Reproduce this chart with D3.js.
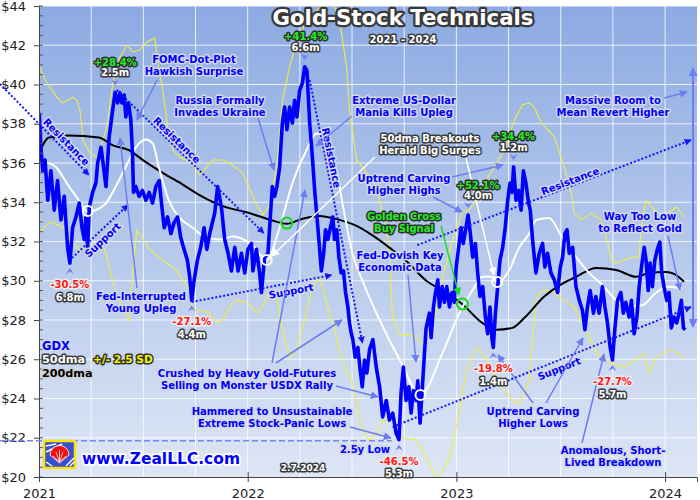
<!DOCTYPE html>
<html><head><meta charset="utf-8">
<script src="https://cdn.jsdelivr.net/npm/d3@7"></script>
<style>body{margin:0;background:#fff}svg{display:block}</style>
</head><body><svg id="c" width="700" height="500"></svg>
<script>
// ---------------- DATA (decimal year, $) ----------------
const price = [
[2021.001,38.55],[2021.010,36.66],[2021.018,35.6],[2021.029,36.15],[2021.042,34.1],[2021.057,35.6],[2021.073,33.6],[2021.089,35.1],[2021.105,33.1],[2021.121,34.3],[2021.137,31.7],[2021.148,30.9],[2021.161,32.7],[2021.177,33.25],[2021.193,33.96],[2021.206,32.7],[2021.217,32.1],[2021.225,33.25],[2021.233,31.7],[2021.241,33.76],[2021.257,34.5],[2021.273,35.0],[2021.281,36.0],[2021.297,36.8],[2021.305,36.15],[2021.321,34.8],[2021.336,37.3],[2021.353,38.7],[2021.365,39.6],[2021.377,39.06],[2021.388,39.57],[2021.397,39.06],[2021.408,39.46],[2021.416,38.35],[2021.429,39.06],[2021.440,38.2],[2021.448,36.5],[2021.453,34.5],[2021.464,34.8],[2021.480,34.3],[2021.496,34.6],[2021.512,34.1],[2021.528,34.5],[2021.544,33.96],[2021.560,34.8],[2021.576,35.1],[2021.589,33.76],[2021.600,32.7],[2021.616,33.25],[2021.632,32.4],[2021.647,32.95],[2021.664,33.25],[2021.679,32.2],[2021.695,31.6],[2021.711,31.05],[2021.722,30.2],[2021.732,29.0],[2021.743,30.0],[2021.759,31.05],[2021.775,31.7],[2021.791,32.7],[2021.804,31.6],[2021.818,32.4],[2021.842,33.45],[2021.856,34.8],[2021.874,33.76],[2021.890,32.1],[2021.906,31.4],[2021.922,30.5],[2021.938,31.7],[2021.954,30.5],[2021.970,31.4],[2021.986,30.4],[2022.001,31.6],[2022.018,31.9],[2022.025,30.5],[2022.042,31.6],[2022.057,30.4],[2022.066,29.4],[2022.081,31.2],[2022.097,31.4],[2022.105,32.7],[2022.118,34.8],[2022.129,34.3],[2022.140,34.8],[2022.153,35.8],[2022.166,38.04],[2022.177,38.85],[2022.188,37.7],[2022.201,38.85],[2022.214,38.04],[2022.225,39.2],[2022.236,38.35],[2022.249,39.7],[2022.262,40.07],[2022.273,40.9],[2022.284,40.7],[2022.297,38.04],[2022.310,36.3],[2022.321,34.6],[2022.332,33.25],[2022.341,32.1],[2022.353,30.5],[2022.364,31.4],[2022.373,32.6],[2022.384,32.1],[2022.396,32.7],[2022.408,33.25],[2022.416,32.1],[2022.427,32.6],[2022.437,31.2],[2022.448,30.4],[2022.459,30.5],[2022.469,29.4],[2022.480,28.66],[2022.488,27.85],[2022.496,27.34],[2022.504,27.0],[2022.515,26.1],[2022.528,26.6],[2022.539,25.45],[2022.549,24.6],[2022.560,25.96],[2022.571,25.3],[2022.584,26.5],[2022.600,27.0],[2022.616,25.6],[2022.632,24.6],[2022.647,23.06],[2022.664,23.9],[2022.679,22.9],[2022.695,23.26],[2022.711,22.24],[2022.725,21.9],[2022.735,24.3],[2022.746,25.6],[2022.759,23.9],[2022.772,24.6],[2022.783,23.26],[2022.794,24.4],[2022.807,23.9],[2022.815,24.9],[2022.826,22.75],[2022.836,24.4],[2022.847,26.3],[2022.855,27.6],[2022.871,28.35],[2022.879,27.1],[2022.890,28.66],[2022.900,29.4],[2022.911,30.05],[2022.919,28.66],[2022.932,29.7],[2022.943,28.9],[2022.954,29.7],[2022.967,28.66],[2022.979,29.4],[2022.990,28.9],[2022.999,30.7],[2023.011,31.7],[2023.022,32.7],[2023.033,31.9],[2023.046,32.7],[2023.056,33.35],[2023.067,32.4],[2023.078,31.2],[2023.091,31.9],[2023.102,30.4],[2023.113,29.2],[2023.126,29.7],[2023.139,28.15],[2023.150,27.3],[2023.161,28.66],[2023.171,27.0],[2023.177,26.6],[2023.187,28.35],[2023.198,29.7],[2023.209,31.05],[2023.222,31.7],[2023.234,32.7],[2023.246,34.1],[2023.257,34.98],[2023.267,34.5],[2023.274,35.8],[2023.286,34.1],[2023.298,34.6],[2023.310,33.6],[2023.321,35.6],[2023.333,34.98],[2023.346,33.96],[2023.354,33.6],[2023.365,32.1],[2023.381,30.4],[2023.397,31.4],[2023.413,31.9],[2023.424,30.7],[2023.437,31.4],[2023.453,30.4],[2023.469,30.05],[2023.485,29.4],[2023.498,30.7],[2023.509,31.2],[2023.520,32.4],[2023.530,32.6],[2023.541,31.4],[2023.557,31.7],[2023.573,29.7],[2023.589,29.0],[2023.604,28.5],[2023.616,27.5],[2023.628,28.66],[2023.641,29.5],[2023.657,28.35],[2023.668,29.2],[2023.684,28.35],[2023.700,29.7],[2023.712,28.66],[2023.724,27.85],[2023.737,26.6],[2023.748,25.96],[2023.759,27.5],[2023.772,29.0],[2023.788,29.4],[2023.800,28.35],[2023.812,28.9],[2023.828,28.15],[2023.839,29.0],[2023.852,27.3],[2023.865,28.15],[2023.876,29.7],[2023.887,30.7],[2023.900,31.7],[2023.909,31.05],[2023.919,29.5],[2023.928,30.9],[2023.939,29.7],[2023.951,31.05],[2023.963,31.6],[2023.975,31.97],[2023.984,30.4],[2023.995,29.7],[2024.008,29.0],[2024.019,29.4],[2024.030,27.6],[2024.043,28.15],[2024.056,27.85],[2024.067,28.35],[2024.078,29.0],[2024.088,27.6],[2024.096,27.5]
];
const dma50 = [
[2021.000,36.6],[2021.019,36.15],[2021.081,35.8],[2021.144,34.8],[2021.191,34.1],[2021.234,33.5],[2021.273,33.6],[2021.321,33.96],[2021.368,34.8],[2021.416,35.8],[2021.464,36.8],[2021.512,37.2],[2021.545,37.0],[2021.574,35.8],[2021.622,34.1],[2021.670,33.25],[2021.737,32.7],[2021.799,32.2],[2021.866,32.1],[2021.928,32.25],[2022.024,31.8],[2022.091,31.05],[2022.153,32.7],[2022.215,35.0],[2022.282,36.66],[2022.330,37.5],[2022.360,37.4],[2022.400,36.4],[2022.426,35.6],[2022.455,33.9],[2022.502,31.4],[2022.550,30.0],[2022.632,28.0],[2022.727,26.0],[2022.828,24.2],[2022.933,26.3],[2023.014,28.35],[2023.077,29.5],[2023.124,30.2],[2023.172,30.2],[2023.196,29.9],[2023.254,30.55],[2023.301,31.7],[2023.349,32.4],[2023.383,33.1],[2023.445,33.2],[2023.507,32.2],[2023.574,31.2],[2023.636,30.4],[2023.699,29.8],[2023.766,29.0],[2023.828,28.7],[2023.890,28.75],[2023.957,29.4],[2024.019,29.7],[2024.081,29.6]
];
const dma200 = [
[2021.000,36.5],[2021.048,37.3],[2021.144,37.4],[2021.287,37.3],[2021.354,36.9],[2021.431,36.66],[2021.498,36.15],[2021.593,35.5],[2021.689,34.9],[2021.780,34.3],[2021.880,33.8],[2021.990,33.5],[2022.110,33.1],[2022.187,32.9],[2022.260,33.15],[2022.340,33.3],[2022.440,33.1],[2022.540,32.7],[2022.600,32.3],[2022.690,31.6],[2022.760,31.0],[2022.856,30.0],[2022.952,29.4],[2023.029,28.8],[2023.124,27.85],[2023.191,27.5],[2023.268,27.6],[2023.325,28.1],[2023.421,29.2],[2023.500,29.8],[2023.574,30.2],[2023.670,30.65],[2023.766,30.55],[2023.861,30.2],[2023.923,30.4],[2024.005,30.45],[2024.043,30.35],[2024.091,29.95]
];
const bandUpper = [
[2021.000,41.0],[2021.029,40.23],[2021.086,39.36],[2021.110,39.06],[2021.139,39.2],[2021.163,39.36],[2021.182,39.2],[2021.196,38.7],[2021.211,37.17],[2021.244,36.5],[2021.278,36.3],[2021.292,36.66],[2021.325,37.83],[2021.354,40.08],[2021.388,41.4],[2021.421,42.0],[2021.450,41.66],[2021.483,41.76],[2021.517,42.17],[2021.555,42.37],[2021.569,41.1],[2021.593,39.72],[2021.617,37.83],[2021.641,36.66],[2021.675,36.3],[2021.732,36.0],[2021.770,35.4],[2021.833,36.15],[2021.880,36.15],[2021.914,36.0],[2021.976,35.5],[2022.038,33.96],[2022.072,33.35],[2022.105,33.86],[2022.139,35.8],[2022.167,39.2],[2022.201,40.9],[2022.234,42.1],[2022.282,43.29],[2022.344,43.9],[2022.407,44.2],[2022.440,43.29],[2022.474,40.9],[2022.488,38.7],[2022.522,36.15],[2022.550,35.8],[2022.617,34.78],[2022.646,33.45],[2022.679,31.72],[2022.694,28.15],[2022.727,27.24],[2022.789,27.24],[2022.847,26.73],[2022.895,28.0],[2022.943,30.55],[2022.990,32.33],[2023.029,33.5],[2023.062,33.6],[2023.110,34.37],[2023.158,35.4],[2023.230,36.66],[2023.278,38.19],[2023.316,38.96],[2023.349,39.06],[2023.373,38.85],[2023.407,38.04],[2023.469,37.33],[2023.517,35.8],[2023.550,34.47],[2023.565,33.45],[2023.598,33.1],[2023.646,33.45],[2023.694,33.1],[2023.722,32.08],[2023.742,31.06],[2023.770,30.9],[2023.837,31.2],[2023.876,31.2],[2023.885,32.74],[2023.909,34.1],[2023.947,33.6],[2023.995,33.35],[2024.057,33.76],[2024.091,33.25]
];
const bandLower = [
[2021.000,32.43],[2021.053,33.0],[2021.115,32.74],[2021.148,32.08],[2021.196,31.57],[2021.244,31.82],[2021.292,32.08],[2021.316,31.57],[2021.368,29.38],[2021.402,28.66],[2021.431,28.0],[2021.450,30.55],[2021.469,32.59],[2021.478,32.43],[2021.531,31.57],[2021.593,31.06],[2021.656,30.55],[2021.722,29.53],[2021.737,28.51],[2021.770,28.51],[2021.818,28.36],[2021.852,27.85],[2021.880,28.0],[2021.914,28.66],[2021.947,29.02],[2021.995,28.87],[2022.043,28.36],[2022.072,28.66],[2022.105,29.53],[2022.139,29.17],[2022.167,27.49],[2022.201,26.11],[2022.234,26.47],[2022.273,28.0],[2022.306,29.53],[2022.344,30.19],[2022.392,28.36],[2022.426,27.13],[2022.455,25.8],[2022.502,24.78],[2022.550,22.38],[2022.584,21.87],[2022.617,22.23],[2022.646,22.9],[2022.694,22.9],[2022.727,22.04],[2022.809,21.87],[2022.856,21.0],[2022.909,19.8],[2022.967,21.0],[2023.014,23.24],[2023.048,25.43],[2023.096,26.6],[2023.124,26.3],[2023.158,25.79],[2023.220,24.57],[2023.268,23.9],[2023.301,23.75],[2023.349,24.92],[2023.364,26.96],[2023.383,29.15],[2023.411,29.5],[2023.455,29.5],[2023.517,29.0],[2023.565,28.66],[2023.612,27.64],[2023.675,26.3],[2023.742,25.8],[2023.804,25.6],[2023.852,25.96],[2023.900,26.3],[2023.923,25.3],[2023.957,26.11],[2024.019,26.47],[2024.067,26.3],[2024.091,26.06]
];
const yearTicks = [2021, 2022, 2023, 2024];
const priceTicks = [20, 22, 24, 26, 28, 30, 32, 34, 36, 38, 40, 42, 44];
const peaks = [
  {t:2021.365, v:39.6, pct:"+28.4%", vol:"2.5m", dx:0},
  {t:2022.273, v:40.9, pct:"+41.4%", vol:"6.6m", dx:1},
  {t:2023.056, v:33.35, pct:"+52.1%", vol:"4.0m", dx:10},
  {t:2023.274, v:35.8, pct:"+34.4%", vol:"1.2m", dx:0}
];
const lows = [
  {t:2021.148, v:30.9, pct:"-30.5%", vol:"6.8m"},
  {t:2021.732, v:29.0, pct:"-27.1%", vol:"4.4m"},
  {t:2022.725, v:21.9, pct:"-46.5%", vol:"5.3m"},
  {t:2023.177, v:26.6, pct:"-19.8%", vol:"1.4m"},
  {t:2023.748, v:25.96, pct:"-27.7%", vol:"5.7m"}
];
const crosses50 = [[2021.234,33.55],[2022.091,31.06],[2022.828,24.18],[2023.196,29.94]];
const goldenCrosses = [[2022.187,32.94],[2023.029,28.82]];
// trend lines: [t1,v1,t2,v2,label,frac,offset]
const trendLines = [
  [2020.813,40.03,2021.239,35.39,"Resistance",0.69,7],
  [2021.373,39.72,2022.077,32.43,"Resistance",0.38,6],
  [2022.297,40.23,2022.550,26.83,"Resistance",0.30,6],
  [2022.813,31.82,2024.124,37.17,"Resistance",0.565,5],
  [2021.158,31.16,2021.426,33.86,"Support",0.45,-8],
  [2021.732,28.92,2022.402,30.29,"Support",0.70,-8],
  [2022.694,22.55,2024.124,28.66,"Support",0.548,-8]
];
const lowLine = {t1:2020.813, t2:2022.690, v:21.85};
const revertArrow = {t:2024.134, v1:40.84, v2:27.64};

// ---------------- SETUP ----------------
const svg = d3.select('#c');
const x = d3.scaleLinear().domain([2021, 2024.153]).range([39, 697]);
const y = d3.scaleLinear().domain([20, 44]).range([477, 6]);
const FONT = "'DejaVu Sans', Verdana, sans-serif";

const defs = svg.append('defs');
const grad = defs.append('linearGradient').attr('id','bg').attr('x1',0).attr('y1',0).attr('x2',0).attr('y2',1);
grad.append('stop').attr('offset','0%').attr('stop-color','#8caae2');
grad.append('stop').attr('offset','100%').attr('stop-color','#dde6f5');
defs.append('clipPath').attr('id','plot').append('rect')
  .attr('x', x(2021)).attr('y', y(44)).attr('width', x.range()[1]-x(2021)).attr('height', y(20)-y(44));
function marker(id, color, size){
  defs.append('marker').attr('id',id).attr('viewBox','0 0 10 10').attr('refX',9).attr('refY',5)
    .attr('markerWidth',size).attr('markerHeight',size).attr('markerUnits','userSpaceOnUse')
    .attr('orient','auto-start-reverse')
    .append('path').attr('d','M0,0L10,5L0,10z').attr('fill',color);
}
marker('mDot','#1515ff',7);
marker('mPtr','#6d7ef2',8);
marker('mWhite','#ffffff',8);
marker('mGreen','#22dd22',8);
marker('mRev','#6d7ef2',9);

// background
svg.append('rect').attr('x', x(2021)).attr('y', y(44))
  .attr('width', x.range()[1]-x(2021)).attr('height', y(20)-y(44)).attr('fill','url(#bg)');

// grid
const grid = svg.append('g').attr('stroke','#ffffff').attr('stroke-opacity',0.8).attr('stroke-width',1);
grid.selectAll('line.h').data(priceTicks.slice(1)).join('line')
  .attr('x1', x(2021)).attr('x2', x.range()[1]).attr('y1', d=>y(d)).attr('y2', d=>y(d));
const quarters = d3.range(1, 13).map(i => 2021 + i*0.25);
grid.selectAll('line.v').data(quarters).join('line')
  .attr('x1', d=>x(d)).attr('x2', d=>x(d)).attr('y1', y(44)).attr('y2', y(20));

// series
const line = d3.line().x(d=>x(d[0])).y(d=>y(d[1]));
const smooth = d3.line().x(d=>x(d[0])).y(d=>y(d[1])).curve(d3.curveMonotoneX);
const sg = svg.append('g').attr('clip-path','url(#plot)').attr('fill','none');
sg.append('path').datum(bandUpper).attr('d', line).attr('stroke','#eeee44').attr('stroke-width',1.1);
sg.append('path').datum(bandLower).attr('d', line).attr('stroke','#eeee44').attr('stroke-width',1.1);
sg.append('path').datum(dma200).attr('d', smooth).attr('stroke','#000').attr('stroke-width',2);
sg.append('path').datum(dma50).attr('d', smooth).attr('stroke','#fff').attr('stroke-width',2);
sg.append('path').datum(price).attr('d', line).attr('stroke','#0000ff').attr('stroke-width',3.6).attr('stroke-linejoin','round');

// axes
const ya = svg.append('g').attr('transform',`translate(${x(2021)},0)`)
  .call(d3.axisLeft(y).tickValues(priceTicks).tickFormat(d=>'$'+d).tickSize(5).tickPadding(8));
ya.selectAll('text').attr('font-family',FONT).attr('font-size',13).attr('fill','#222');
ya.selectAll('line,path').attr('stroke','#444');
ya.selectAll('.minor').data(d3.range(20, 44.01, 0.5)).join('line').attr('class','minor')
  .attr('x1',0).attr('x2',4).attr('y1',d=>y(d)).attr('y2',d=>y(d)).attr('stroke','#555');
const xa = svg.append('g').attr('transform',`translate(0,${y(20)})`)
  .call(d3.axisBottom(x).tickValues(yearTicks).tickFormat(d3.format('d')).tickSize(5).tickPadding(7));
xa.selectAll('text').attr('font-family',FONT).attr('font-size',13).attr('fill','#222');
xa.selectAll('line,path').attr('stroke','#444');
xa.selectAll('.tick line').attr('y1',-5);

// ---------------- ANNOTATIONS ----------------
const styles = {
  blue:{fill:'#0000ff',stroke:'#d4d8e6'}, white:{fill:'#ffffff',stroke:'#3a3a3a'},
  green:{fill:'#22ee22',stroke:'#2e2e2e'}, red:{fill:'#ff1a1a',stroke:'#ececec'},
  yellow:{fill:'#f4f400',stroke:'#333333'}, black:{fill:'#000000',stroke:'#d0d0d0'}
};
const ag = svg.append('g');
function txt(px, py, s, style, o={}){
  const st = styles[style];
  const t = ag.append('text').attr('x',px).attr('y',py).text(s)
    .attr('font-family',FONT).attr('font-weight','bold').attr('font-size',o.size||10)
    .attr('text-anchor',o.anchor||'middle').attr('fill',st.fill).attr('stroke',st.stroke)
    .attr('stroke-width',o.sw||3).attr('stroke-linejoin','round').attr('paint-order','stroke');
  if (o.len) t.attr('textLength',o.len).attr('lengthAdjust','spacingAndGlyphs');
  if (o.rot !== undefined) t.attr('transform',`rotate(${o.rot},${px},${py})`).attr('dy','0.36em');
  return t;
}
function block(px, py, lines, style, lh=12){ lines.forEach((s,i)=>txt(px, py+i*lh, s, style)); }
function arrow(x1,y1,x2,y2,color,mk,w=1.5){
  ag.append('line').attr('x1',x1).attr('y1',y1).attr('x2',x2).attr('y2',y2)
    .attr('stroke',color).attr('stroke-width',w).attr('marker-end',`url(#${mk})`);
}

// low line (2.5y low)
ag.append('line').attr('x1',x(lowLine.t1)).attr('x2',x(lowLine.t2)).attr('y1',y(lowLine.v)).attr('y2',y(lowLine.v))
  .attr('stroke','#7586f0').attr('stroke-width',1.6).attr('stroke-dasharray','6,3');

// trend lines
trendLines.forEach(([t1,v1,t2,v2,lab,f,off])=>{
  const X1=x(t1),Y1=y(v1),X2=x(t2),Y2=y(v2);
  ag.append('line').attr('x1',X1).attr('y1',Y1).attr('x2',X2).attr('y2',Y2)
    .attr('stroke','#1515ff').attr('stroke-width',2).attr('stroke-dasharray','2,2').attr('marker-end','url(#mDot)');
  const dx=X2-X1, dy=Y2-Y1, L=Math.hypot(dx,dy);
  const nx=dy/L, ny=-dx/L;
  const cx=X1+dx*f+nx*off, cy=Y1+dy*f+ny*off;
  txt(cx, cy, lab, 'blue', {rot: Math.atan2(dy,dx)*180/Math.PI});
});

// revert vertical arrow
ag.append('line').attr('x1',x(revertArrow.t)).attr('x2',x(revertArrow.t))
  .attr('y1',y(revertArrow.v2)).attr('y2',y(revertArrow.v1))
  .attr('stroke','#6d7ef2').attr('stroke-width',2)
  .attr('marker-start','url(#mRev)').attr('marker-end','url(#mRev)');

// pointer arrows
[[157,80,137,120],[258,118,274,170],[352,116,316,146],[137,288,120,138],
 [272,363,305,190],[276,363,342,320],[336,386,378,397],[350,427,391,438],
 [452,177,503,165],[433,197,462,212],[408,275,416,362],[533,403,498,355],
 [546,403,583,338],[582,443,604,354],[668,236,680,290],[664,98,687,92]]
 .forEach(a=>arrow(...a,'#6d7ef2','mPtr'));
arrow(375,157,272,256,'#ffffff','mWhite');
arrow(466,158,494,275,'#ffffff','mWhite');
arrow(441,226,459,295,'#22dd22','mGreen');

// circles
ag.selectAll('circle.w').data(crosses50).join('circle').attr('cx',d=>x(d[0])).attr('cy',d=>y(d[1]))
  .attr('r',5).attr('fill','none').attr('stroke','#fff').attr('stroke-width',2);
ag.selectAll('circle.g').data(goldenCrosses).join('circle').attr('cx',d=>x(d[0])).attr('cy',d=>y(d[1]))
  .attr('r',5.5).attr('fill','none').attr('stroke','#11dd11').attr('stroke-width',2);

// peaks & lows
peaks.forEach(p=>{
  const px=x(p.t), py=y(p.v);
  ag.append('path').attr('d',`M${px-4},${py-13}L${px},${py-7}L${px+4},${py-13}L${px},${py-10.5}Z`).attr('fill','#6d7ef2');
  txt(px+p.dx, py-26.5, p.pct, 'green');
  txt(px+p.dx, py-16, p.vol, 'white');
});
lows.forEach(p=>{
  const px=x(p.t), py=y(p.v);
  ag.append('path').attr('d',`M${px-4},${py+11}L${px},${py+5}L${px+4},${py+11}L${px},${py+8.5}Z`).attr('fill','#6d7ef2');
  txt(px, py+25, p.pct, 'red');
  txt(px, py+37.5, p.vol, 'white');
});

// text blocks
block(194, 63, ["FOMC-Dot-Plot","Hawkish Surprise"], 'blue');
block(220, 104, ["Russia Formally","Invades Ukraine"], 'blue');
block(404, 104, ["Extreme US-Dollar","Mania Kills Upleg"], 'blue');
block(430, 142, ["50dma Breakouts","Herald Big Surges"], 'white');
block(404, 182, ["Uptrend Carving","Higher Highs"], 'blue');
block(404, 220, ["Golden Cross","Buy Signal"], 'green');
block(400, 259, ["Fed-Dovish Key","Economic Data"], 'blue');
block(613, 104, ["Massive Room to","Mean Revert Higher"], 'blue');
block(640, 220, ["Way Too Low","to Reflect Gold"], 'blue');
block(141, 300, ["Fed-Interrupted","Young Upleg"], 'blue');
block(247, 377, ["Crushed by Heavy Gold-Futures","Selling on Monster USDX Rally"], 'blue');
block(272, 415, ["Hammered to Unsustainable","Extreme Stock-Panic Lows"], 'blue');
block(365, 453, ["2.5y Low"], 'blue');
block(533, 415, ["Uptrend Carving","Higher Lows"], 'blue');
block(613, 454, ["Anomalous, Short-","Lived Breakdown"], 'blue');

// title
txt(403, 25, "Gold-Stock Technicals", 'white', {size:21, sw:4.5, len:261});
txt(403, 43, "2021 - 2024", 'white', {size:10, sw:3});

// legend
txt(42, 350, "GDX", 'blue', {anchor:'start', size:11.5});
txt(42, 363, "50dma", 'white', {anchor:'start', size:11.3});
txt(93, 363, "+/- 2.5 SD", 'yellow', {anchor:'start', size:10.6});
txt(42, 377, "200dma", 'black', {anchor:'start', size:11.2});

// logo
const lg = ag.append('g');
lg.append('rect').attr('x',44).attr('y',441).attr('width',31).attr('height',27).attr('fill','#3a4fd0').attr('stroke','#ffe400').attr('stroke-width',2.5).attr('rx',1);
[[46,446,56,444],[46,452,62,444],[66,466,74,458],[70,466,74,462],[46,462,52,466]].forEach(l=>
  lg.append('line').attr('x1',l[0]).attr('y1',l[1]).attr('x2',l[2]).attr('y2',l[3]).attr('stroke','#ffffff').attr('stroke-width',1.5));
lg.append('path').attr('d','M50,455 A9.5,9.5 0 0 1 69,455 L59.5,463 Z').attr('fill','#ee1111').attr('stroke','#fff').attr('stroke-width',0.8);
[[53,456],[56,452],[59.5,450],[63,452],[66,456]].forEach(p=>
  lg.append('line').attr('x1',59.5).attr('y1',462).attr('x2',p[0]).attr('y2',p[1]).attr('stroke','#ffffff').attr('stroke-width',0.7));
txt(82, 464, "www.ZealLLC.com", 'blue', {anchor:'start', size:15.5, sw:3.5, len:158}).attr('stroke','#ffffff');
txt(303, 471, "2.7.2024", 'white', {size:9, sw:0});
</script>
</body></html>
